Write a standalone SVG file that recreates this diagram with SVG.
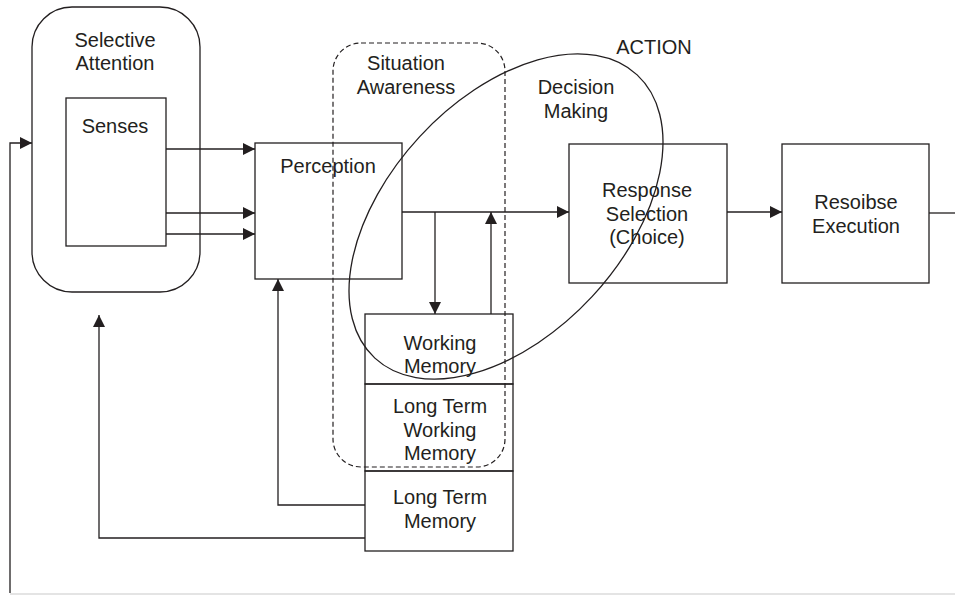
<svg xmlns="http://www.w3.org/2000/svg" width="955" height="595" viewBox="0 0 955 595">
<defs>
<marker id="ah" markerUnits="userSpaceOnUse" markerWidth="12" markerHeight="12" refX="12" refY="6" orient="auto">
<path d="M0,0 L12,6 L0,12 z" fill="#231f20"/>
</marker>
<style>
.b{fill:none;stroke:#231f20;stroke-width:1.3}
.c{fill:none;stroke:#231f20;stroke-width:1.3;marker-end:url(#ah)}
.d{fill:none;stroke:#231f20;stroke-width:1.2;stroke-dasharray:5,3}
text{font-family:"Liberation Sans",Arial,sans-serif;font-size:20px;fill:#231f20;text-anchor:middle}
</style>
</defs>
<rect width="955" height="595" fill="#fff"/>
<line x1="10" y1="594" x2="955" y2="594" stroke="#e4e4e4" stroke-width="2"/>
<g id="selective-attention">
<rect class="b" x="32" y="7" width="168" height="285" rx="40"/>
<text x="115" y="47">Selective</text>
<text x="115" y="70">Attention</text>
</g>
<g id="senses">
<rect class="b" x="66" y="98" width="100" height="148"/>
<text x="115" y="133">Senses</text>
</g>
<g id="perception">
<rect class="b" x="255" y="143" width="147" height="136"/>
<text x="328" y="173">Perception</text>
</g>
<g id="situation-awareness">
<rect class="d" x="333" y="43" width="172" height="424" rx="28"/>
<text x="406" y="70">Situation</text>
<text x="406" y="94">Awareness</text>
</g>
<g id="response-selection">
<rect class="b" x="569" y="144" width="158" height="139"/>
<text x="647" y="197">Response</text>
<text x="647" y="221">Selection</text>
<text x="647" y="244">(Choice)</text>
</g>
<g id="response-execution">
<rect class="b" x="782" y="144" width="147" height="139"/>
<text x="856" y="209">Resoibse</text>
<text x="856" y="233">Execution</text>
</g>
<g id="working-memory">
<rect class="b" x="365" y="314" width="148" height="70"/>
<text x="440" y="350">Working</text>
<text x="440" y="373">Memory</text>
</g>
<g id="long-term-working-memory">
<rect class="b" x="365" y="384" width="148" height="87"/>
<text x="440" y="413">Long Term</text>
<text x="440" y="437">Working</text>
<text x="440" y="460">Memory</text>
</g>
<g id="long-term-memory">
<rect class="b" x="365" y="471" width="148" height="80"/>
<text x="440" y="504">Long Term</text>
<text x="440" y="528">Memory</text>
</g>
<g id="decision-making">
<ellipse class="b" cx="506" cy="216.5" rx="193" ry="117.6" transform="rotate(-47.2 506 216.5)"/>
<text x="654" y="54">ACTION</text>
<text x="576" y="94">Decision</text>
<text x="576" y="118">Making</text>
</g>
<g id="connectors">
<path class="c" d="M166,149 H255"/>
<path class="c" d="M166,213 H255"/>
<path class="c" d="M166,234 H255"/>
<path class="c" d="M402,212 H569"/>
<path class="c" d="M435,212 V314"/>
<path class="c" d="M491,314 V212"/>
<path class="c" d="M727,212 H782"/>
<path class="b" d="M929,213 H955"/>
<path class="c" d="M365,505 H278 V279"/>
<path class="c" d="M365,538 H99 V315"/>
<path class="c" d="M10,593 V143 H32"/>
</g>
</svg>
